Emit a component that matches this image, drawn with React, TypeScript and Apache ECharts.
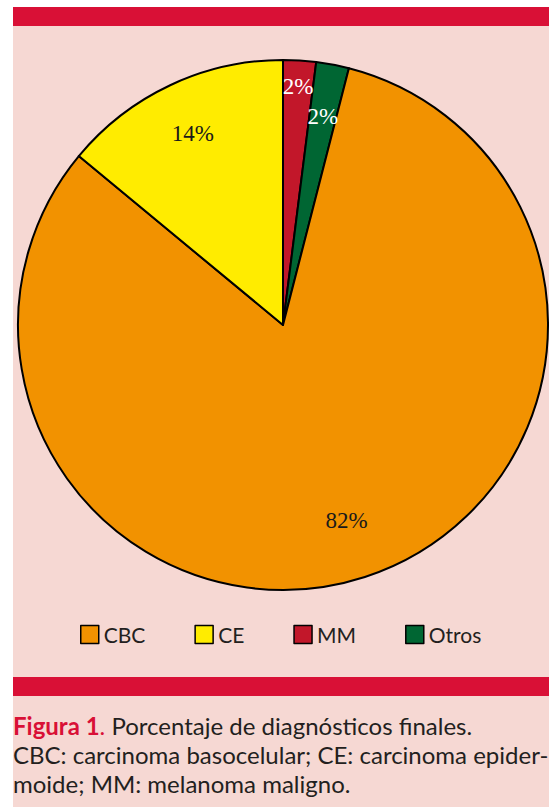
import React, { useEffect, useRef } from "react";
import * as echarts from "echarts";

// Data (pie order: clockwise from 12 o'clock)
const categories = ["MM", "Otros", "CBC", "CE"];
const values = [2, 2, 82, 14];
const legendOrder = ["CBC", "CE", "MM", "Otros"];
const sliceColors: Record<string, string> = {
  CBC: "#F29200",
  CE: "#FFEC00",
  MM: "#C2172A",
  Otros: "#006633",
};
const labelColors: Record<string, string> = {
  CBC: "#1a1a1a",
  CE: "#1a1a1a",
  MM: "#ffffff",
  Otros: "#ffffff",
};
const captionLines = [
  "Porcentaje de diagnósticos finales.",
  "CBC: carcinoma basocelular; CE: carcinoma epider-",
  "moide; MM: melanoma maligno.",
];

// Layout constants
const W = 549;
const H = 807;
const CX = 283;
const CY = 325;
const R = 265;
const labelRadiusFactor: Record<string, number> = { MM: 0.9, Otros: 0.8, CBC: 0.775, CE: 0.8 };
const CAP_FONT = 24;

export default function App() {
  const ref = useRef<HTMLDivElement>(null);

  useEffect(() => {
    document.body.style.margin = "0";
    if (!ref.current) return;
    const chart = echarts.init(ref.current, null, { renderer: "svg" });
    const total = values.reduce((a, b) => a + b, 0);
    const cum: number[] = [];
    let acc = 0;
    values.forEach((v) => {
      cum.push(acc);
      acc += v;
    });

    const capFont = CAP_FONT + "px Lato";
    const option: any = {
      animation: false,
      backgroundColor: "#ffffff",
      graphic: [
        { type: "rect", z: -10, shape: { x: 13, y: 7, width: W - 13, height: H - 7 }, style: { fill: "#F6D8D3" } },
        { type: "rect", z: -9, shape: { x: 13, y: 7, width: W - 13, height: 19 }, style: { fill: "#D91036" } },
        { type: "rect", z: -9, shape: { x: 13, y: 677, width: W - 13, height: 19 }, style: { fill: "#D91036" } },
        {
          type: "text",
          x: 13,
          y: 725,
          style: {
            text: "{b|Figura 1}{r|.} " + captionLines[0],
            verticalAlign: "middle",
            font: capFont,
            fill: "#231F20",
            rich: {
              b: { font: "bold " + capFont, fill: "#D91036", color: "#D91036" },
              r: { font: capFont, fill: "#D91036", color: "#D91036" },
            },
          },
        },
        {
          type: "text",
          x: 13,
          y: 754,
          style: { text: captionLines[1], verticalAlign: "middle", font: capFont, fill: "#231F20" },
        },
        {
          type: "text",
          x: 13,
          y: 783,
          style: { text: captionLines[2], verticalAlign: "middle", font: capFont, fill: "#231F20" },
        },
      ],
      legend: {
        data: legendOrder,
        left: 80,
        top: 624,
        padding: 0,
        itemWidth: 18,
        itemHeight: 18,
        itemGap: 49,
        icon: "rect",
        itemStyle: { borderColor: "#000", borderWidth: 1.5 },
        textStyle: { fontFamily: "Lato", fontSize: 21, color: "#231F20" },
      },
      series: [
        {
          type: "pie",
          center: [CX, CY],
          radius: [0, R],
          startAngle: 90,
          clockwise: true,
          avoidLabelOverlap: false,
          itemStyle: { borderColor: "#000", borderWidth: 2 },
          label: {
            show: true,
            position: "inside",
            formatter: (p: any) => p.value + "%",
            fontFamily: "Liberation Serif",
            fontSize: 23,
          },
          labelLine: { show: false },
          labelLayout: (p: any) => {
            const i = p.dataIndex;
            const name = categories[i];
            const mid = (cum[i] + values[i] / 2) / total;
            const th = mid * Math.PI * 2;
            const r = R * labelRadiusFactor[name];
            return {
              x: CX + r * Math.sin(th),
              y: CY - r * Math.cos(th),
              align: "center",
              verticalAlign: "middle",
            };
          },
          data: categories.map((c, i) => ({
            name: c,
            value: values[i],
            itemStyle: { color: sliceColors[c] },
            label: { color: labelColors[c] },
          })),
        },
      ],
    };
    chart.setOption(option);
    return () => chart.dispose();
  }, []);

  return <div ref={ref} style={{ width: W, height: H }} />;
}
